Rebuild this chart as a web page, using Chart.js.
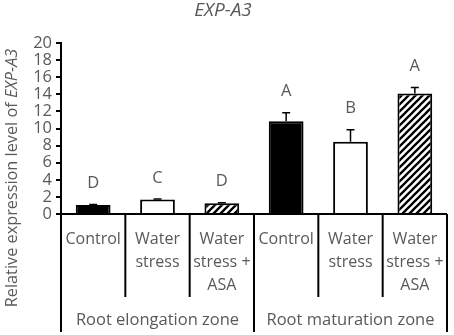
<!DOCTYPE html>
<html><head><meta charset="utf-8">
<script src="https://cdn.jsdelivr.net/npm/chart.js@4/dist/chart.umd.min.js"></script>
<style>html,body{margin:0;padding:0;background:#fff}#wrap{width:454px;height:335px}</style>
</head><body><div id="wrap"><canvas id="c" width="454" height="335"></canvas></div>
<script>
const categories = [["Control"],["Water","stress"],["Water","stress +","ASA"],["Control"],["Water","stress"],["Water","stress +","ASA"]];
const groups = ["Root elongation zone","Root maturation zone"];
const values = [1.05, 1.7, 1.25, 10.85, 8.45, 14.1];
const errors = [0.05, 0.05, 0.08, 1.0, 1.4, 0.7];
const letters = ["D","C","D","A","B","A"];
const yTicks = [0,2,4,6,8,10,12,14,16,18,20];
const titleText = "EXP-A3";

const GRAY = "#595959";
const FONT = "'Open Sans', sans-serif";
const FS = 16.5;
const FC = 16;

function hatch(){
  const c = document.createElement('canvas'); c.width = 7; c.height = 7;
  const x = c.getContext('2d');
  x.fillStyle = '#fff'; x.fillRect(0,0,7,7);
  x.strokeStyle = '#000'; x.lineWidth = 2.3;
  x.beginPath();
  x.moveTo(-1,8); x.lineTo(8,-1);
  x.moveTo(-4,4); x.lineTo(4,-4);
  x.moveTo(3,11); x.lineTo(11,3);
  x.stroke();
  return x.createPattern(c,'repeat');
}
const hp = hatch();
const fills = ['#000','#fff',hp,'#000','#fff',hp];

const deco = {
  id:'deco',
  afterDatasetsDraw(chart){
    const ctx = chart.ctx, xs = chart.scales.x, ys = chart.scales.y;
    ctx.save();
    ctx.strokeStyle = '#000'; ctx.lineWidth = 1.5;
    values.forEach((v,i)=>{
      const x = xs.getPixelForValue(i);
      const y0 = ys.getPixelForValue(v), y1 = ys.getPixelForValue(v+errors[i]);
      ctx.beginPath(); ctx.moveTo(x,y0); ctx.lineTo(x,y1);
      ctx.moveTo(x-4,y1); ctx.lineTo(x+4,y1); ctx.stroke();
      ctx.fillStyle = GRAY; ctx.font = FS + "px " + FONT;
      ctx.textAlign = 'center'; ctx.textBaseline = 'middle';
      ctx.fillText(letters[i], x, y1 - 21);
    });
    ctx.restore();
  },
  afterDraw(chart){
    const ctx = chart.ctx, xs = chart.scales.x, a = chart.chartArea;
    const half = (xs.getPixelForValue(1) - xs.getPixelForValue(0)) / 2;
    ctx.save();
    ctx.strokeStyle = '#000'; ctx.lineWidth = 2;
    ctx.beginPath(); ctx.moveTo(a.left - 5, a.bottom); ctx.lineTo(a.right, a.bottom); ctx.stroke();
    for (let i = 0; i <= categories.length; i++) {
      const x = (i < categories.length ? xs.getPixelForValue(i) - half : xs.getPixelForValue(i-1) + half);
      const long = (i % 3 === 0);
      ctx.beginPath(); ctx.moveTo(x, a.bottom); ctx.lineTo(x, long ? 332 : 297); ctx.stroke();
    }
    ctx.fillStyle = GRAY; ctx.textBaseline = 'middle';
    ctx.font = FC + "px " + FONT;
    categories.forEach((lines,i)=>{
      const x = xs.getPixelForValue(i);
      lines.forEach((t,k)=>{
        ctx.textAlign = 'center';
        ctx.fillText(t, x, a.bottom + 25 + k*23);
      });
    });
    ctx.font = FS + "px " + FONT;
    groups.forEach((g,j)=>{
      const x = (xs.getPixelForValue(j*3) + xs.getPixelForValue(j*3+2)) / 2;
      ctx.textAlign = 'center';
      ctx.fillText(g, x, 320);
    });
    ctx.font = "italic 19px " + FONT; ctx.textAlign = 'center';
    ctx.fillText(titleText, 223, 11);
    ctx.translate(12, 178); ctx.rotate(-Math.PI/2);
    const p1 = "Relative expression level of ", p2 = titleText;
    const ys = 16.3;
    ctx.font = ys + "px " + FONT; const w1 = ctx.measureText(p1).width;
    ctx.font = "italic " + ys + "px " + FONT; const w2 = ctx.measureText(p2).width;
    let sx = -(w1+w2)/2;
    ctx.textAlign = 'left';
    ctx.font = ys + "px " + FONT; ctx.fillText(p1, sx, 0);
    ctx.font = "italic " + ys + "px " + FONT; ctx.fillText(p2, sx + w1, 0);
    ctx.restore();
  }
};

new Chart(document.getElementById('c'), {
  type:'bar',
  data:{
    labels: categories.map(c=>c.join(' ')),
    datasets:[{data: values, backgroundColor: fills, borderColor:'#000', borderWidth:2,
      barPercentage:0.54, categoryPercentage:1}]
  },
  options:{
    responsive:false, animation:false,
    layout:{padding:{left:0, right:7, top:43, bottom:121}},
    plugins:{legend:{display:false}, tooltip:{enabled:false}},
    scales:{
      x:{display:true, grid:{display:false}, ticks:{display:false}, border:{display:false},
         afterFit(s){ s.height = 0; }},
      y:{min:0, max:20, afterBuildTicks(s){ s.ticks = yTicks.map(v=>({value:v})); },
         ticks:{color:GRAY, font:{family:"'Open Sans', sans-serif", size:16.5}, padding:4, autoSkip:false},
         grid:{drawOnChartArea:false, drawTicks:true, tickLength:5, color:'#000', lineWidth:2},
         border:{display:true, color:'#000', width:2},
         afterFit(s){ s.width = 61; }}
    }
  },
  plugins:[deco]
});
</script></body></html>
